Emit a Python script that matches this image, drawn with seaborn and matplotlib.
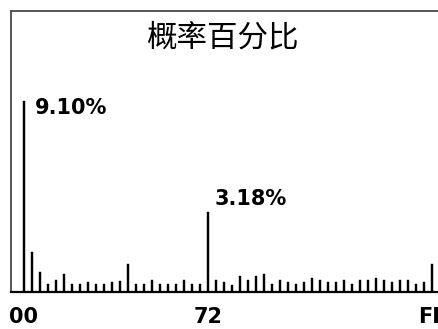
import matplotlib
matplotlib.use("Agg")
import matplotlib.pyplot as plt
import seaborn as sns
import pandas as pd

# byte histogram, one bar per 5 byte values (00..FF), in percent
byte_bins = [f"{b:02X}" for b in range(0, 256, 5)]
percent = [9.10, 1.89, 0.94, 0.38, 0.56, 0.86, 0.38, 0.38, 0.46, 0.38,
           0.38, 0.46, 0.54, 1.33, 0.38, 0.38, 0.56, 0.38, 0.38, 0.38,
           0.56, 0.38, 0.38, 3.81, 0.56, 0.48, 0.35, 0.75, 0.56, 0.75,
           0.84, 0.37, 0.56, 0.46, 0.37, 0.46, 0.65, 0.56, 0.46, 0.46,
           0.56, 0.37, 0.56, 0.56, 0.65, 0.56, 0.46, 0.56, 0.56, 0.37,
           0.46, 1.32]
tick_bins = ["00", "73", "FF"]
tick_labels = ["00", "72", "FF"]
peak_bins = ["00", "73"]
peak_labels = ["9.10%", "3.18%"]
title = "概率百分比"

df = pd.DataFrame({"bin": byte_bins, "pct": percent})

sns.set_style("white")
plt.rcParams["font.family"] = ["DejaVu Sans"]
plt.rcParams["text.color"] = "black"
plt.rcParams["xtick.color"] = "black"

fig = plt.figure(figsize=(4.39, 3.29), dpi=100)
ax = fig.add_axes([11 / 439, 37 / 329, 1 - 11 / 439, 281 / 329])

sns.barplot(data=df, x="bin", y="pct", color="black", width=0.34,
            saturation=1, linewidth=0, ax=ax, order=byte_bins)
for p in ax.patches:
    p.set_facecolor("black")
    p.set_edgecolor("black")
    p.set_linewidth(0.3)

ax.set_xlim(-1.625, 51.875)
ax.set_ylim(0, 13.38)
ax.set_xlabel("")
ax.set_ylabel("")
ax.set_yticks([])

pos = {b: i for i, b in enumerate(byte_bins)}
ax.set_xticks([pos[b] for b in tick_bins])
ax.set_xticklabels(tick_labels, fontsize=15, fontweight="bold", color="black")
ax.tick_params(axis="x", length=0, pad=11)

# peak labels
offsets = [(8, 2, "top"), (5, 2, "bottom")]
for b, lab, (dx, dy, va) in zip(peak_bins, peak_labels, offsets):
    v = df.loc[df["bin"] == b, "pct"].iloc[0]
    ax.annotate(lab, xy=(pos[b], v), xytext=(dx, dy), textcoords="offset points",
                ha="left", va=va, fontsize=15, fontweight="bold", color="black")

ax.text(0.493, 0.905, title, transform=ax.transAxes, ha="center", va="center",
        fontsize=22, color="black", family=["Noto Sans CJK SC", "DejaVu Sans"])

for side in ["left", "top"]:
    ax.spines[side].set_color("#555555")
    ax.spines[side].set_linewidth(1.4)
ax.spines["bottom"].set_color("black")
ax.spines["bottom"].set_linewidth(1.6)
ax.spines["right"].set_visible(False)

fig.savefig("out.png", dpi=100)
